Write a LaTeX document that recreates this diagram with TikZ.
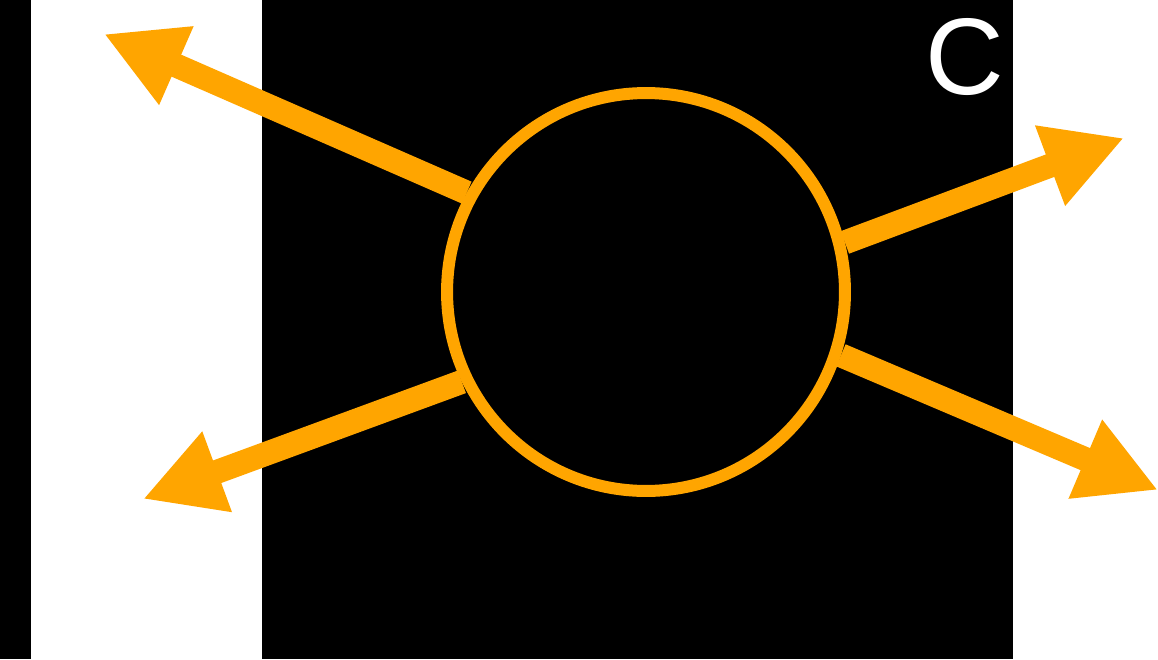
\documentclass[tikz,border=0pt]{standalone}
\usepackage{fontspec}
\setsansfont{Liberation Sans}
\usetikzlibrary{arrows.meta}
\definecolor{amber}{RGB}{255,165,0}
\tikzset{
  ray/.style={draw=amber,line width=0.48cm,-{Triangle[length=1.58cm,width=1.6cm]}},
}
\begin{document}
\begin{tikzpicture}[x=0.02cm,y=-0.02cm]
\useasboundingbox (0,0) rectangle (1158,659);
\fill[white] (0,0) rectangle (1158,659);
\fill[black] (0,0) rectangle (31,659);
\fill[black] (262,0) rectangle (1013,659);

\node[circle,draw=amber,line width=0.24cm,minimum size=7.96cm,inner sep=0pt] (blob) at (646,292) {};
\node[text=white,font=\sffamily\fontsize{62}{62}\selectfont] (label) at (965,57) {C};

\coordinate (tipUL) at (104,34);
\coordinate (tipLL) at (143,499);
\coordinate (tipUR) at (1124,138);
\coordinate (tipLR) at (1158,490);

\draw[ray] (blob.151) -- (tipUL);
\draw[ray] (blob.206) -- (tipLL);
\draw[ray] (blob.14) -- (tipUR);
\draw[ray] (blob.-18) -- (tipLR);
\end{tikzpicture}
\end{document}
